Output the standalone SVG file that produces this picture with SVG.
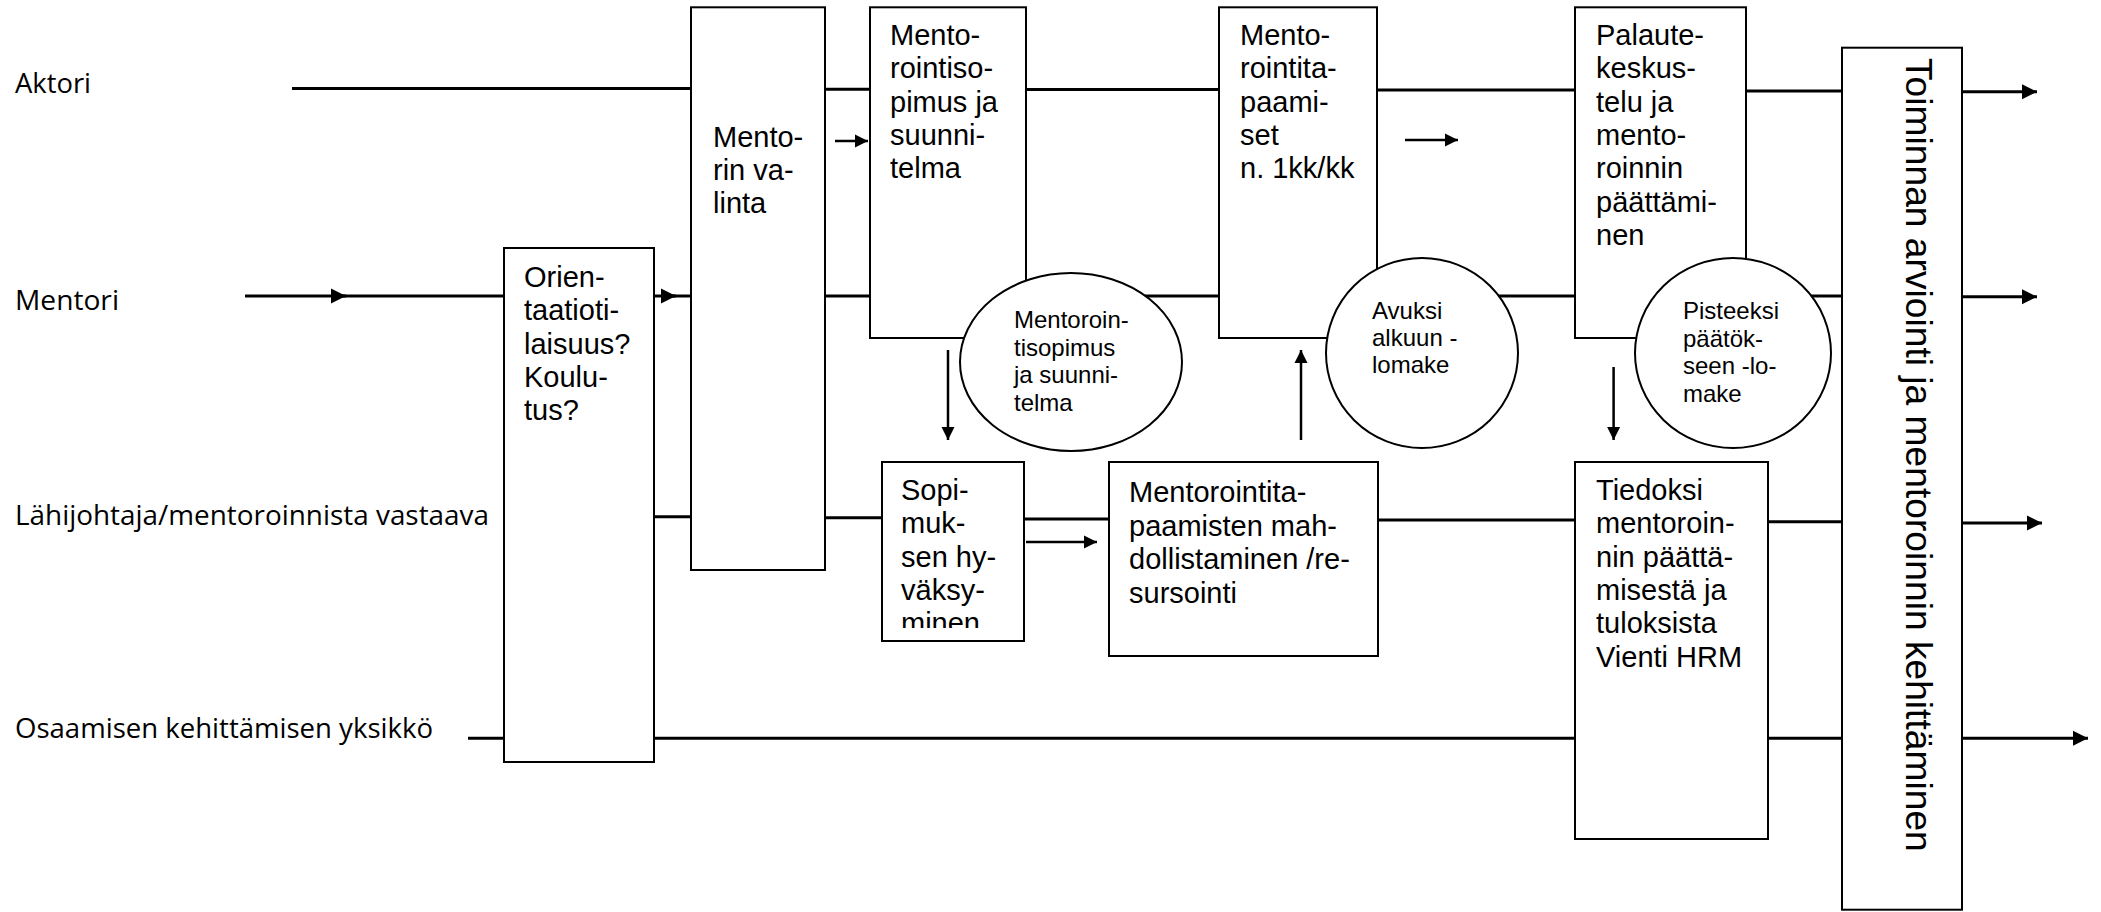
<svg xmlns="http://www.w3.org/2000/svg" width="2101" height="912" viewBox="0 0 2101 912">
<style>
.bg{fill:#ffffff}
.box{fill:#ffffff;stroke:#000;stroke-width:2}
.circ{fill:#ffffff;stroke:#000;stroke-width:2}
.lane{stroke:#000;stroke-width:3;fill:none}
.arr{stroke:#000;stroke-width:2.5;fill:none}
.t{font-family:"Liberation Sans",Arial,sans-serif;font-size:29px;fill:#000}
.tc{font-family:"Liberation Sans",Arial,sans-serif;font-size:24px;fill:#000}
.lbl{font-family:"Open Sans","Liberation Sans",sans-serif;font-size:27px;fill:#000}
.big{font-family:"Liberation Sans",Arial,sans-serif;font-size:37.2px;fill:#000}
</style>
<defs>
<marker id="ah" viewBox="0 0 10 10" refX="10" refY="5" markerWidth="15" markerHeight="16" markerUnits="userSpaceOnUse" orient="auto">
<path d="M0,0 L10,5 L0,10 z" fill="#000"/>
</marker>
<marker id="ahs" viewBox="0 0 10 10" refX="10" refY="5" markerWidth="13" markerHeight="14" markerUnits="userSpaceOnUse" orient="auto">
<path d="M0,0 L10,5 L0,10 z" fill="#000"/>
</marker>
<clipPath id="clipSopi"><rect x="882" y="462" width="142" height="166"/></clipPath>
</defs>
<rect class="bg" x="0" y="0" width="2101" height="912"/>

<g id="labels">
<text class="lbl" x="15" y="93" textLength="76" lengthAdjust="spacingAndGlyphs">Aktori</text>
<text class="lbl" x="15" y="310" textLength="104" lengthAdjust="spacingAndGlyphs">Mentori</text>
<text class="lbl" x="15" y="525" textLength="474" lengthAdjust="spacingAndGlyphs">Lähijohtaja/mentoroinnista vastaava</text>
<text class="lbl" x="15" y="738" textLength="418" lengthAdjust="spacingAndGlyphs">Osaamisen kehittämisen yksikkö</text>
</g>

<g id="connectors">
<!-- Aktori lane -->
<line class="lane" x1="292" y1="88.5" x2="691" y2="88.5"/>
<line class="lane" x1="825" y1="89.3" x2="870" y2="89.3"/>
<line class="lane" x1="1026" y1="89.5" x2="1219" y2="89.5"/>
<line class="lane" x1="1377" y1="90" x2="1575" y2="90"/>
<line class="lane" x1="1746" y1="91" x2="1842" y2="91"/>
<line class="lane" x1="1962" y1="91.7" x2="2037" y2="91.7" marker-end="url(#ah)"/>
<!-- Mentori lane -->
<line class="lane" x1="245" y1="296" x2="346" y2="296" marker-end="url(#ah)"/>
<line class="lane" x1="340" y1="296" x2="504" y2="296"/>
<line class="lane" x1="654" y1="296" x2="676" y2="296" marker-end="url(#ah)"/>
<line class="lane" x1="670" y1="296" x2="691" y2="296"/>
<line class="lane" x1="825" y1="296" x2="870" y2="296"/>
<line class="lane" x1="1026" y1="296" x2="1219" y2="296"/>
<line class="lane" x1="1377" y1="296" x2="1575" y2="296"/>
<line class="lane" x1="1746" y1="296" x2="1842" y2="296"/>
<line class="lane" x1="1962" y1="296.7" x2="2037" y2="296.7" marker-end="url(#ah)"/>
<!-- Lahijohtaja lane -->
<line class="lane" x1="654" y1="516.7" x2="691" y2="516.7"/>
<line class="lane" x1="825" y1="517.7" x2="882" y2="517.7"/>
<line class="lane" x1="1024" y1="519" x2="1109" y2="519"/>
<line class="lane" x1="1378" y1="520" x2="1575" y2="520"/>
<line class="lane" x1="1768" y1="521.7" x2="1842" y2="521.7"/>
<line class="lane" x1="1962" y1="523" x2="2042" y2="523" marker-end="url(#ah)"/>
<!-- Osaamisen lane -->
<line class="lane" x1="468" y1="738.3" x2="504" y2="738.3"/>
<line class="lane" x1="654" y1="738.3" x2="1575" y2="738.3"/>
<line class="lane" x1="1768" y1="738.3" x2="1842" y2="738.3"/>
<line class="lane" x1="1962" y1="738.3" x2="2088" y2="738.3" marker-end="url(#ah)"/>
<!-- small flow arrows -->
<line class="arr" x1="835" y1="141" x2="868" y2="141" marker-end="url(#ahs)"/>
<line class="arr" x1="1405" y1="140" x2="1458" y2="140" marker-end="url(#ahs)"/>
<line class="arr" x1="1026" y1="542" x2="1097" y2="542" marker-end="url(#ahs)"/>
<line class="arr" x1="948" y1="350" x2="948" y2="440" marker-end="url(#ahs)"/>
<line class="arr" x1="1301" y1="440" x2="1301" y2="350" marker-end="url(#ahs)"/>
<line class="arr" x1="1613.6" y1="367" x2="1613.6" y2="440" marker-end="url(#ahs)"/>
</g>

<g id="orientaatio">
<rect class="box" x="504" y="248" width="150" height="514"/>
<text class="t" x="524"><tspan x="524" y="287">Orien-</tspan><tspan x="524" y="320.3">taatioti-</tspan><tspan x="524" y="353.6">laisuus?</tspan><tspan x="524" y="387">Koulu-</tspan><tspan x="524" y="420.3">tus?</tspan></text>
</g>

<g id="mentorin-valinta">
<rect class="box" x="691" y="7.3" width="134" height="562.7"/>
<text class="t"><tspan x="713" y="146.5">Mento-</tspan><tspan x="713" y="179.8">rin va-</tspan><tspan x="713" y="213">linta</tspan></text>
</g>

<g id="mentorointisopimus">
<rect class="box" x="870" y="7.3" width="156" height="330.7"/>
<text class="t"><tspan x="890" y="45">Mento-</tspan><tspan x="890" y="78.3">rointiso-</tspan><tspan x="890" y="111.6">pimus ja</tspan><tspan x="890" y="145">suunni-</tspan><tspan x="890" y="178.3">telma</tspan></text>
</g>

<g id="mentorointitapaamiset">
<rect class="box" x="1219" y="7.3" width="158" height="330.7"/>
<text class="t"><tspan x="1240" y="45">Mento-</tspan><tspan x="1240" y="78.3">rointita-</tspan><tspan x="1240" y="111.6">paami-</tspan><tspan x="1240" y="145">set</tspan><tspan x="1240" y="178.3">n. 1kk/kk</tspan></text>
</g>

<g id="palautekeskustelu">
<rect class="box" x="1575" y="7.3" width="171" height="330.7"/>
<text class="t"><tspan x="1596" y="45">Palaute-</tspan><tspan x="1596" y="78.3">keskus-</tspan><tspan x="1596" y="111.6">telu ja</tspan><tspan x="1596" y="145">mento-</tspan><tspan x="1596" y="178.3">roinnin</tspan><tspan x="1596" y="211.6">päättämi-</tspan><tspan x="1596" y="245">nen</tspan></text>
</g>

<g id="lomake-sopimus">
<ellipse class="circ" cx="1071" cy="362" rx="111" ry="89"/>
<text class="tc"><tspan x="1014" y="328">Mentoroin-</tspan><tspan x="1014" y="355.5">tisopimus</tspan><tspan x="1014" y="383">ja suunni-</tspan><tspan x="1014" y="410.5">telma</tspan></text>
</g>

<g id="lomake-avuksi">
<ellipse class="circ" cx="1422" cy="353" rx="96" ry="95"/>
<text class="tc"><tspan x="1372" y="319">Avuksi</tspan><tspan x="1372" y="346">alkuun -</tspan><tspan x="1372" y="373">lomake</tspan></text>
</g>

<g id="lomake-pisteeksi">
<ellipse class="circ" cx="1733" cy="353" rx="98" ry="95"/>
<text class="tc"><tspan x="1683" y="319">Pisteeksi</tspan><tspan x="1683" y="346.5">päätök-</tspan><tspan x="1683" y="374">seen -lo-</tspan><tspan x="1683" y="401.5">make</tspan></text>
</g>

<g id="sopimuksen-hyvaksyminen">
<rect class="box" x="882" y="462" width="142" height="179"/>
<text class="t" clip-path="url(#clipSopi)"><tspan x="901" y="500">Sopi-</tspan><tspan x="901" y="533.3">muk-</tspan><tspan x="901" y="566.6">sen hy-</tspan><tspan x="901" y="600">väksy-</tspan><tspan x="901" y="633.3">minen</tspan></text>
</g>

<g id="mahdollistaminen">
<rect class="box" x="1109" y="462" width="269" height="194"/>
<text class="t"><tspan x="1129" y="502">Mentorointita-</tspan><tspan x="1129" y="535.5">paamisten mah-</tspan><tspan x="1129" y="569">dollistaminen /re-</tspan><tspan x="1129" y="602.5">sursointi</tspan></text>
</g>

<g id="tiedoksi">
<rect class="box" x="1575" y="462" width="193" height="377"/>
<text class="t"><tspan x="1596" y="500">Tiedoksi</tspan><tspan x="1596" y="533.3">mentoroin-</tspan><tspan x="1596" y="566.6">nin päättä-</tspan><tspan x="1596" y="600">misestä ja</tspan><tspan x="1596" y="633.3">tuloksista</tspan><tspan x="1596" y="666.6">Vienti HRM</tspan></text>
</g>

<g id="toiminnan-arviointi">
<rect class="box" x="1842" y="47.7" width="120" height="862"/>
<text class="big" transform="translate(1906,58) rotate(90)" x="0" y="0">Toiminnan arviointi ja mentoroinnin kehittäminen</text>
</g>
</svg>
